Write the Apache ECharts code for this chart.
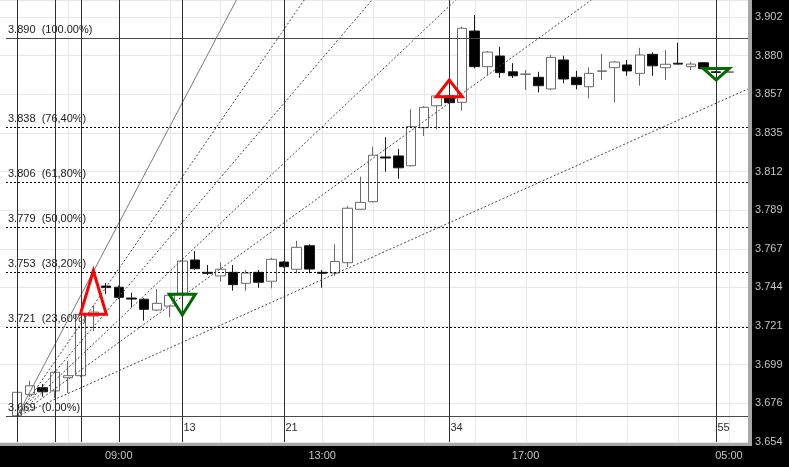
<!DOCTYPE html>
<html>
<head>
<meta charset="utf-8">
<style>
  html, body { margin: 0; padding: 0; background: #000; }
  #chart { width: 789px; height: 467px; }
</style>
<script src="https://cdn.jsdelivr.net/npm/echarts@6/dist/echarts.min.js"></script>
</head>
<body>
<div id="chart"></div>
<script>
// 15 minute candles, index 0..56
const opens = [3.6693, 3.6818, 3.6857, 3.6838, 3.6915, 3.6927, 3.7275, 3.7450, 3.7443, 3.7380,
  3.7373, 3.7310, 3.7333, 3.7408, 3.7602, 3.7530, 3.7509, 3.7530, 3.7466, 3.7530,
  3.7478, 3.7590, 3.7548, 3.7685, 3.7530, 3.7526, 3.7586, 3.7898, 3.7942, 3.8203,
  3.8209, 3.8152, 3.8374, 3.8502, 3.8559, 3.8522, 3.8938, 3.8730, 3.8792, 3.8700,
  3.8685, 3.8668, 3.8600, 3.8769, 3.8668, 3.8613, 3.8703, 3.8724, 3.8740, 3.8691,
  3.8802, 3.8724, 3.8750, 3.8730, 3.8753, 3.8700, 3.8697];
const closes = [3.6830, 3.6868, 3.6833, 3.6947, 3.6927, 3.7285, 3.7298, 3.7441, 3.7384, 3.7374,
  3.7314, 3.7349, 3.7396, 3.7596, 3.7551, 3.7524, 3.7548, 3.7458, 3.7526, 3.7472,
  3.7606, 3.7563, 3.7676, 3.7549, 3.7524, 3.7593, 3.7904, 3.7938, 3.8213, 3.8197,
  3.8140, 3.8380, 3.8493, 3.8559, 3.8520, 3.8954, 3.8730, 3.8815, 3.8695, 3.8677,
  3.8687, 3.8619, 3.8784, 3.8658, 3.8625, 3.8691, 3.8705, 3.8757, 3.8705, 3.8798,
  3.8735, 3.8744, 3.8745, 3.8745, 3.8718, 3.8696, 3.8700];
const lows = [3.6690, 3.6803, 3.6804, 3.6797, 3.6826, 3.6919, 3.7188, 3.7404, 3.7374, 3.7326,
  3.7248, 3.7304, 3.7268, 3.7369, 3.7544, 3.7514, 3.7475, 3.7423, 3.7423, 3.7440,
  3.7437, 3.7558, 3.7524, 3.7524, 3.7440, 3.7509, 3.7561, 3.7895, 3.7937, 3.8117,
  3.8076, 3.8147, 3.8325, 3.8364, 3.8489, 3.8473, 3.8720, 3.8681, 3.8665, 3.8664,
  3.8594, 3.8580, 3.8594, 3.8633, 3.8598, 3.8545, 3.8652, 3.8522, 3.8677, 3.8619,
  3.8677, 3.8652, 3.8742, 3.8710, 3.8713, 3.8693, 3.8696];
const highs = [3.6832, 3.6898, 3.6878, 3.6954, 3.7013, 3.7316, 3.7339, 3.7468, 3.7453, 3.7411,
  3.7380, 3.7433, 3.7409, 3.7608, 3.7654, 3.7573, 3.7588, 3.7573, 3.7544, 3.7544,
  3.7615, 3.7596, 3.7714, 3.7693, 3.7544, 3.7693, 3.7917, 3.8088, 3.8263, 3.8318,
  3.8250, 3.8481, 3.8500, 3.8565, 3.8565, 3.8964, 3.9031, 3.8821, 3.8846, 3.8750,
  3.8710, 3.8700, 3.8798, 3.8794, 3.8706, 3.8726, 3.8804, 3.8763, 3.8769, 3.8840,
  3.8814, 3.8827, 3.8870, 3.8759, 3.8754, 3.8705, 3.8702];

// x axis: one empty slot before candle 0 and one after the last candle
const firstSlot = -1, lastSlot = 57;
const timeLabels = ['09:00', '13:00', '17:00', '05:00'];
const timeLabelIdx = [8, 24, 40, 56];
const hourGridIdx = [0, 4, 8, 12, 16, 20, 24, 28, 32, 36, 40, 44, 48, 52, 56];

// price axis
const yTickLabels = ['3.654', '3.676', '3.699', '3.721', '3.744', '3.767', '3.789', '3.812', '3.835', '3.857', '3.880', '3.902'];
const yMin = 3.654, yStep = 0.022545, yMax = 3.9119;

// fibonacci retracement
const fibLow = 3.669, fibHigh = 3.890;
const fibRatios = [0, 0.236, 0.382, 0.5, 0.618, 0.764, 1];
const fibLabels = ['3.669  (0.00%)', '3.721  (23,60%)', '3.753  (38,20%)', '3.779  (50,00%)',
  '3.806  (61,80%)', '3.838  (76,40%)', '3.890  (100.00%)'];

// fibonacci fan: from candle 0 low, rays pass the retracement levels at candle position 15.7
const fanFrom = [0, 3.669];
const fanAt = 15.7;
const fanRatios = [1, 0.764, 0.618, 0.5, 0.382, 0.236];

// fibonacci time zones
const zoneIdx = [0, 3, 5, 8, 13, 21, 34, 55];
const zoneLabels = ['', '', '', '', '13', '21', '34', '55'];

// buy / sell signals
const signalIdx = [6, 34, 13, 55];
const signalBase = [3.7285, 3.8555, 3.7402, 3.8720];
const signalTip = [3.7539, 3.8652, 3.7281, 3.8652];
const signalColor = ['#ff0000', '#ff0000', '#006a00', '#006a00'];

const FONT = '"Liberation Sans", Arial, sans-serif';
const slot = i => i - firstSlot;
const categories = [];
for (let i = firstSlot; i <= lastSlot; i++) categories.push(String(i));

const candleData = categories.map((c, s) => {
  const i = s + firstSlot;
  return i >= 0 && i < opens.length ? [opens[i], closes[i], lows[i], highs[i]] : ['-', '-', '-', '-'];
});

// pixel position of a (possibly fractional) candle position
function pointAt(api, pos, v) {
  const s = slot(pos), a = Math.floor(s);
  const p0 = api.coord([a, v]), p1 = api.coord([a + 1, v]);
  return [p0[0] + (s - a) * (p1[0] - p0[0]), p0[1]];
}
const crisp = v => Math.round(v) + 0.5;

const chart = echarts.init(document.getElementById('chart'));
chart.setOption({
  animation: false,
  backgroundColor: '#000',
  textStyle: { fontFamily: FONT },
  grid: {
    left: -2, top: 0, width: 750, height: 442,
    outerBoundsMode: 'none', containLabel: false,
    show: true, backgroundColor: '#fff', borderWidth: 0
  },
  graphic: [
    { type: 'rect', shape: { x: 748, y: 0, width: 4, height: 446 }, style: { fill: '#a8a8a8' } },
    { type: 'rect', shape: { x: 0, y: 442, width: 752, height: 4 }, style: { fill: '#a8a8a8' } }
  ],
  xAxis: {
    type: 'category',
    data: categories,
    boundaryGap: true,
    axisLine: { show: false },
    axisTick: { show: false },
    splitLine: { show: false },
    axisLabel: {
      interval: idx => timeLabelIdx.includes(idx + firstSlot),
      formatter: (v, idx) => timeLabels[timeLabelIdx.indexOf(idx + firstSlot)] || '',
      color: '#c4c4c4', fontSize: 11, fontFamily: FONT, margin: 8
    }
  },
  yAxis: {
    type: 'value',
    position: 'right',
    min: yMin, max: yMax, interval: yStep,
    axisLine: { show: false },
    axisTick: { show: false },
    splitLine: { show: true, lineStyle: { color: '#e8e8e8', width: 1 } },
    axisLabel: {
      color: '#c4c4c4', fontSize: 11, fontFamily: FONT, margin: 7,
      formatter: v => {
        const k = Math.round((v - yMin) / yStep);
        return Math.abs(v - (yMin + k * yStep)) < 1e-6 && yTickLabels[k] ? yTickLabels[k] : '';
      }
    }
  },
  series: [
    {
      // hourly grid
      type: 'custom', z: 1, silent: true,
      data: hourGridIdx.map(i => [slot(i), yMin]),
      encode: { x: 0, y: 1 },
      renderItem: (params, api) => {
        const x = crisp(api.coord([api.value(0), api.value(1)])[0]);
        const cs = params.coordSys;
        return { type: 'line', shape: { x1: x, y1: cs.y, x2: x, y2: cs.y + cs.height },
          style: { stroke: '#e8e8e8', lineWidth: 1 } };
      }
    },
    {
      type: 'candlestick', z: 2, barWidth: 10,
      data: candleData,
      itemStyle: { color: '#fff', color0: '#000', borderColor: '#6a6a6a', borderColor0: '#1a1a1a', borderWidth: 1 }
    },
    {
      // retracement levels
      type: 'custom', z: 3, silent: true,
      data: fibRatios.map((r, k) => [slot(0), fibLow + (fibHigh - fibLow) * r, k]),
      encode: { x: 0, y: 1 },
      renderItem: (params, api) => {
        const k = api.value(2);
        const y = crisp(api.coord([api.value(0), api.value(1)])[1]);
        const cs = params.coordSys;
        const solid = fibRatios[k] === 0 || fibRatios[k] === 1;
        return { type: 'group', children: [
          { type: 'line', shape: { x1: cs.x + 8, y1: y, x2: cs.x + cs.width, y2: y },
            style: { stroke: solid ? '#4a4a4a' : '#000', lineWidth: 1, lineDash: solid ? null : [2, 2] } },
          { type: 'text', style: { text: fibLabels[k], x: cs.x + 10, y: y - 9, fill: '#1a1a1a',
            font: '11px ' + FONT, textAlign: 'left', textVerticalAlign: 'middle', align: 'left', verticalAlign: 'middle' } }
        ] };
      }
    },
    {
      // fan rays
      type: 'custom', z: 3, silent: true,
      data: fanRatios.map((r, k) => [slot(fanFrom[0]), fanFrom[1], k]),
      encode: { x: 0, y: 1 },
      renderItem: (params, api) => {
        const r = fanRatios[api.value(2)];
        const p0 = pointAt(api, fanFrom[0], fanFrom[1]);
        const p1 = pointAt(api, fanAt, fibLow + (fibHigh - fibLow) * r);
        const cs = params.coordSys;
        const dx = p1[0] - p0[0], dy = p1[1] - p0[1];
        const t = Math.min((cs.y - p0[1]) / dy, (cs.x + cs.width - p0[0]) / dx);
        return { type: 'line', shape: { x1: p0[0], y1: p0[1], x2: p0[0] + dx * t, y2: p0[1] + dy * t },
          style: { stroke: r === 1 ? '#7a7a7a' : '#4a4a4a', lineWidth: 1, lineDash: r === 1 ? null : [2, 2] } };
      }
    },
    {
      // time zones
      type: 'custom', z: 4, silent: true,
      data: zoneIdx.map((i, k) => [slot(i), yMin, k]),
      encode: { x: 0, y: 1 },
      renderItem: (params, api) => {
        const x = crisp(api.coord([api.value(0), api.value(1)])[0]);
        const cs = params.coordSys;
        return { type: 'group', children: [
          { type: 'line', shape: { x1: x, y1: cs.y, x2: x, y2: cs.y + cs.height },
            style: { stroke: '#2e2e2e', lineWidth: 1 } },
          { type: 'text', style: { text: zoneLabels[api.value(2)], x: x + 1, y: cs.y + cs.height - 14, fill: '#2e2e2e',
            font: '11px ' + FONT, textAlign: 'left', textVerticalAlign: 'middle', align: 'left', verticalAlign: 'middle' } }
        ] };
      }
    },
    {
      // signals
      type: 'custom', z: 5, silent: true,
      data: signalIdx.map((i, k) => [slot(i), signalBase[k], k]),
      encode: { x: 0, y: 1 },
      renderItem: (params, api) => {
        const k = api.value(2);
        const b = api.coord([api.value(0), signalBase[k]]);
        const t = api.coord([api.value(0), signalTip[k]]);
        return { type: 'polygon', shape: { points: [[b[0] - 13, b[1]], [b[0] + 13, b[1]], [t[0], t[1]]] },
          style: { fill: 'none', stroke: signalColor[k], lineWidth: 3, lineJoin: 'miter' } };
      }
    }
  ]
});
</script>
</body>
</html>
